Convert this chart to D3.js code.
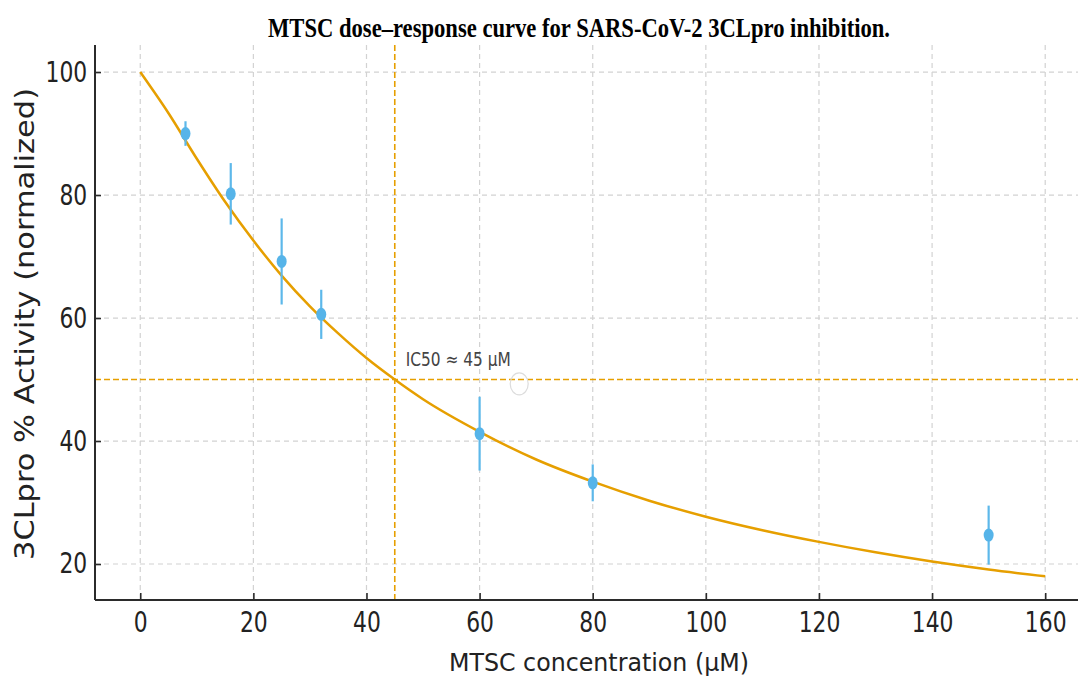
<!DOCTYPE html>
<html>
<head>
<meta charset="utf-8">
<script src="https://cdn.jsdelivr.net/npm/d3@7"></script>
<style>
  body { margin: 0; background: #fff; }
</style>
</head>
<body>
<div id="chart"></div>
<script>
// measured points (dose in µM, % activity, error)
const doses = [8, 16, 25, 32, 60, 80, 150];
const activity = [90, 80.2, 69.2, 60.6, 41.2, 33.2, 24.7];
const errors = [2, 5, 7, 4, 6, 3, 4.8];

// fitted curve
const curveDose = [0, 5, 10, 15, 20, 25, 30, 35, 40, 45, 50, 60, 70, 80, 90, 100, 110, 120, 130, 140, 150, 160];
const curveActivity = [100, 93.3, 85.9, 78.9, 72.6, 66.9, 61.9, 57.5, 53.5, 50, 46.8, 41.5, 37.0, 33.4, 30.3, 27.7, 25.5, 23.6, 21.9, 20.4, 19.1, 18.0];

const xTicks = [0, 20, 40, 60, 80, 100, 120, 140, 160];
const yTicks = [20, 40, 60, 80, 100];
const ic50 = 45;
const halfActivity = 50;

const W = 1078, H = 677;
const mLeft = 95, mTop = 45, mBottom = 600;

const svg = d3.select("#chart").append("svg")
  .attr("width", W).attr("height", H)
  .style("font-family", "DejaVu Sans");

const x = d3.scaleLinear().domain([-8, 168]).range([mLeft, mLeft + 176 * 5.656]);
const y = d3.scaleLinear().domain([14.15, 104.4]).range([mBottom, mTop]);

svg.append("clipPath").attr("id", "clip")
  .append("rect").attr("x", mLeft).attr("y", mTop).attr("width", W - mLeft).attr("height", mBottom - mTop);

// grid
const grid = svg.append("g").attr("clip-path", "url(#clip)");
grid.selectAll(".vg").data(xTicks).enter().append("line")
  .attr("x1", d => x(d)).attr("x2", d => x(d))
  .attr("y1", mTop).attr("y2", mBottom)
  .attr("stroke", "#d2d2d2").attr("stroke-width", 1.2).attr("stroke-dasharray", "5,4");
grid.selectAll(".hg").data(yTicks).enter().append("line")
  .attr("x1", mLeft).attr("x2", W)
  .attr("y1", d => y(d)).attr("y2", d => y(d))
  .attr("stroke", "#d2d2d2").attr("stroke-width", 1.2).attr("stroke-dasharray", "5,4");

const plot = svg.append("g").attr("clip-path", "url(#clip)");

// IC50 guides
plot.append("line")
  .attr("x1", x(ic50)).attr("x2", x(ic50)).attr("y1", mTop).attr("y2", mBottom)
  .attr("stroke", "#E69F00").attr("stroke-width", 1.6).attr("stroke-dasharray", "6,3");
plot.append("line")
  .attr("x1", mLeft).attr("x2", W).attr("y1", y(halfActivity)).attr("y2", y(halfActivity))
  .attr("stroke", "#E69F00").attr("stroke-width", 1.6).attr("stroke-dasharray", "6,3");

// fitted curve
const curve = curveDose.map((d, i) => [d, curveActivity[i]]);
plot.append("path")
  .datum(curve)
  .attr("fill", "none")
  .attr("stroke", "#E69F00")
  .attr("stroke-width", 2.5)
  .attr("d", d3.line().x(d => x(d[0])).y(d => y(d[1])).curve(d3.curveMonotoneX));

// error bars + points
const pts = doses.map((d, i) => ({dose: d, act: activity[i], err: errors[i]}));
plot.selectAll(".eb").data(pts).enter().append("line")
  .attr("x1", d => x(d.dose)).attr("x2", d => x(d.dose))
  .attr("y1", d => y(d.act - d.err)).attr("y2", d => y(d.act + d.err))
  .attr("stroke", "#5DB8EA").attr("stroke-width", 2.2);
plot.selectAll(".pt").data(pts).enter().append("ellipse")
  .attr("cx", d => x(d.dose)).attr("cy", d => y(d.act))
  .attr("rx", 5).attr("ry", 6.5)
  .attr("fill", "#56B4E9");

// faint ring next to the label
plot.append("ellipse")
  .attr("cx", x(67)).attr("cy", y(49.3))
  .attr("rx", 9).attr("ry", 11)
  .attr("fill", "none").attr("stroke", "#dcdcdc").attr("stroke-width", 1.2);

// annotation
svg.append("text")
  .attr("x", x(ic50) + 11).attr("y", 366)
  .attr("font-size", 19).attr("fill", "#444")
  .attr("textLength", 105).attr("lengthAdjust", "spacingAndGlyphs")
  .text("IC50 ≈ 45 µM");

// axes
const xAxis = svg.append("g")
  .attr("transform", "translate(0," + mBottom + ")")
  .call(d3.axisBottom(x).tickValues(xTicks).tickSizeInner(-7).tickSizeOuter(0).tickPadding(12));
const yAxis = svg.append("g")
  .attr("transform", "translate(" + mLeft + ",0)")
  .call(d3.axisLeft(y).tickValues(yTicks).tickSizeInner(-6).tickSizeOuter(0).tickPadding(10));

[xAxis, yAxis].forEach(a => {
  a.select(".domain").attr("stroke", "#2b2b2b").attr("stroke-width", 2);
  a.selectAll(".tick line").attr("stroke", "#2b2b2b").attr("stroke-width", 1.6);
  a.selectAll(".tick text")
    .attr("font-family", "DejaVu Sans").attr("font-size", 28).attr("fill", "#222")
    .attr("transform", "scale(0.78,1)");
});
xAxis.select(".domain").attr("d", "M" + mLeft + ",0H" + W);
yAxis.select(".domain").attr("d", "M0," + mTop + "V" + mBottom);

// labels
svg.append("text")
  .attr("x", 599).attr("y", 671)
  .attr("text-anchor", "middle")
  .attr("font-size", 25).attr("fill", "#222")
  .attr("textLength", 300).attr("lengthAdjust", "spacingAndGlyphs")
  .text("MTSC concentration (µM)");

svg.append("text")
  .attr("transform", "translate(34,324) rotate(-90)")
  .attr("text-anchor", "middle")
  .attr("font-size", 26).attr("fill", "#222")
  .attr("textLength", 472).attr("lengthAdjust", "spacingAndGlyphs")
  .text("3CLpro % Activity (normalized)");

svg.append("text")
  .attr("x", 579).attr("y", 37)
  .attr("text-anchor", "middle")
  .attr("font-family", "Liberation Serif").attr("font-weight", "bold")
  .attr("font-size", 28).attr("fill", "#000")
  .attr("textLength", 622).attr("lengthAdjust", "spacingAndGlyphs")
  .text("MTSC dose–response curve for SARS-CoV-2 3CLpro inhibition.");
</script>
</body>
</html>
